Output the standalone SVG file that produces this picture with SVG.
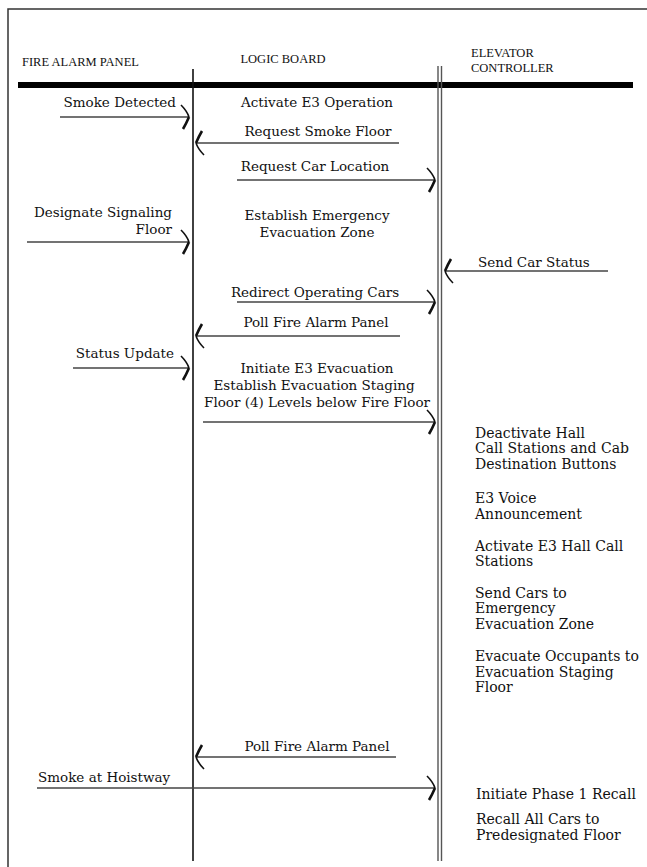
<svg xmlns="http://www.w3.org/2000/svg" width="647" height="867" viewBox="0 0 647 867">
<style>
text{font-family:"DejaVu Serif","Liberation Serif",serif;font-size:13.5px;fill:#111}
.h{font-family:"Liberation Serif","DejaVu Serif",serif;font-size:12.5px}
.r{font-size:14px}
.e{text-anchor:end}
.m{text-anchor:middle}
.frame{stroke:#333;stroke-width:1.5;fill:none}
.life{stroke:#111;stroke-width:1.6;fill:none}
.life2{stroke:#555;stroke-width:1.4;fill:none}
.msg{stroke:#444;stroke-width:1.3;fill:none}
</style>
<defs>
<marker id="ah" markerUnits="userSpaceOnUse" markerWidth="16" markerHeight="30" viewBox="-11 -15 13 30" refX="0" refY="0" orient="auto">
<path d="M-8,-12 Q-2,-6 0,0" stroke="#111" stroke-width="1.6" fill="none"/>
<path d="M0,0 Q-3,7 -6,12" stroke="#111" stroke-width="2.6" fill="none"/>
</marker>
</defs>
<rect width="647" height="867" fill="#fff"/>
<g id="frame">
<path class="frame" d="M8,867 V9 H647"/>
<rect x="18" y="82" width="615" height="6" fill="#000"/>
</g>
<g id="lifelines">
<path class="life" d="M193,69 V861"/>
<path class="life2" d="M438,66 V861 M441.5,66 V861"/>
</g>
<g id="fire-alarm-panel"><text class="h" x="22" y="66">FIRE ALARM PANEL</text></g>
<g id="logic-board"><text class="h m" x="283" y="63">LOGIC BOARD</text></g>
<g id="elevator-controller"><text class="h" x="471" y="57">ELEVATOR</text><text class="h" x="471" y="72">CONTROLLER</text></g>
<g id="connectors">
<path class="msg" marker-end="url(#ah)" d="M60,117 H189"/>
<path class="msg" marker-end="url(#ah)" d="M399,143 H196"/>
<path class="msg" marker-end="url(#ah)" d="M237,180 H435"/>
<path class="msg" marker-end="url(#ah)" d="M27,242 H189"/>
<path class="msg" marker-end="url(#ah)" d="M608,271 H445"/>
<path class="msg" marker-end="url(#ah)" d="M237,302 H435"/>
<path class="msg" marker-end="url(#ah)" d="M400,336 H196"/>
<path class="msg" marker-end="url(#ah)" d="M73,368 H189"/>
<path class="msg" marker-end="url(#ah)" d="M203,422 H435"/>
<path class="msg" marker-end="url(#ah)" d="M396,757 H196"/>
<path class="msg" marker-end="url(#ah)" d="M37,788 H435"/>
</g>
<g id="labels">
<text class="e" x="176" y="107">Smoke Detected</text>
<text class="m" x="317" y="107">Activate E3 Operation</text>
<text class="m" x="318" y="136">Request Smoke Floor</text>
<text class="m" x="315" y="171">Request Car Location</text>
<text class="e" x="172" y="217">Designate Signaling</text>
<text class="e" x="172" y="234">Floor</text>
<text class="m" x="317" y="220">Establish Emergency</text>
<text class="m" x="317" y="237">Evacuation Zone</text>
<text x="478" y="267">Send Car Status</text>
<text class="m" x="315" y="297">Redirect Operating Cars</text>
<text class="m" x="316" y="327">Poll Fire Alarm Panel</text>
<text class="e" x="174" y="358">Status Update</text>
<text class="m" x="317" y="373">Initiate E3 Evacuation</text>
<text class="m" x="314" y="390">Establish Evacuation Staging</text>
<text class="m" x="317" y="407">Floor (4) Levels below Fire Floor</text>
<text class="r" x="475" y="438">Deactivate Hall</text>
<text class="r" x="475" y="453">Call Stations and Cab</text>
<text class="r" x="475" y="469">Destination Buttons</text>
<text class="r" x="475" y="503">E3 Voice</text>
<text class="r" x="475" y="519">Announcement</text>
<text class="r" x="475" y="551">Activate E3 Hall Call</text>
<text class="r" x="475" y="566">Stations</text>
<text class="r" x="475" y="598">Send Cars to</text>
<text class="r" x="475" y="613">Emergency</text>
<text class="r" x="475" y="629">Evacuation Zone</text>
<text class="r" x="475" y="661">Evacuate Occupants to</text>
<text class="r" x="475" y="677">Evacuation Staging</text>
<text class="r" x="475" y="692">Floor</text>
<text class="m" x="317" y="751">Poll Fire Alarm Panel</text>
<text x="38" y="782">Smoke at Hoistway</text>
<text class="r" x="476" y="799">Initiate Phase 1 Recall</text>
<text class="r" x="476" y="824">Recall All Cars to</text>
<text class="r" x="476" y="840">Predesignated Floor</text>
</g>
</svg>
